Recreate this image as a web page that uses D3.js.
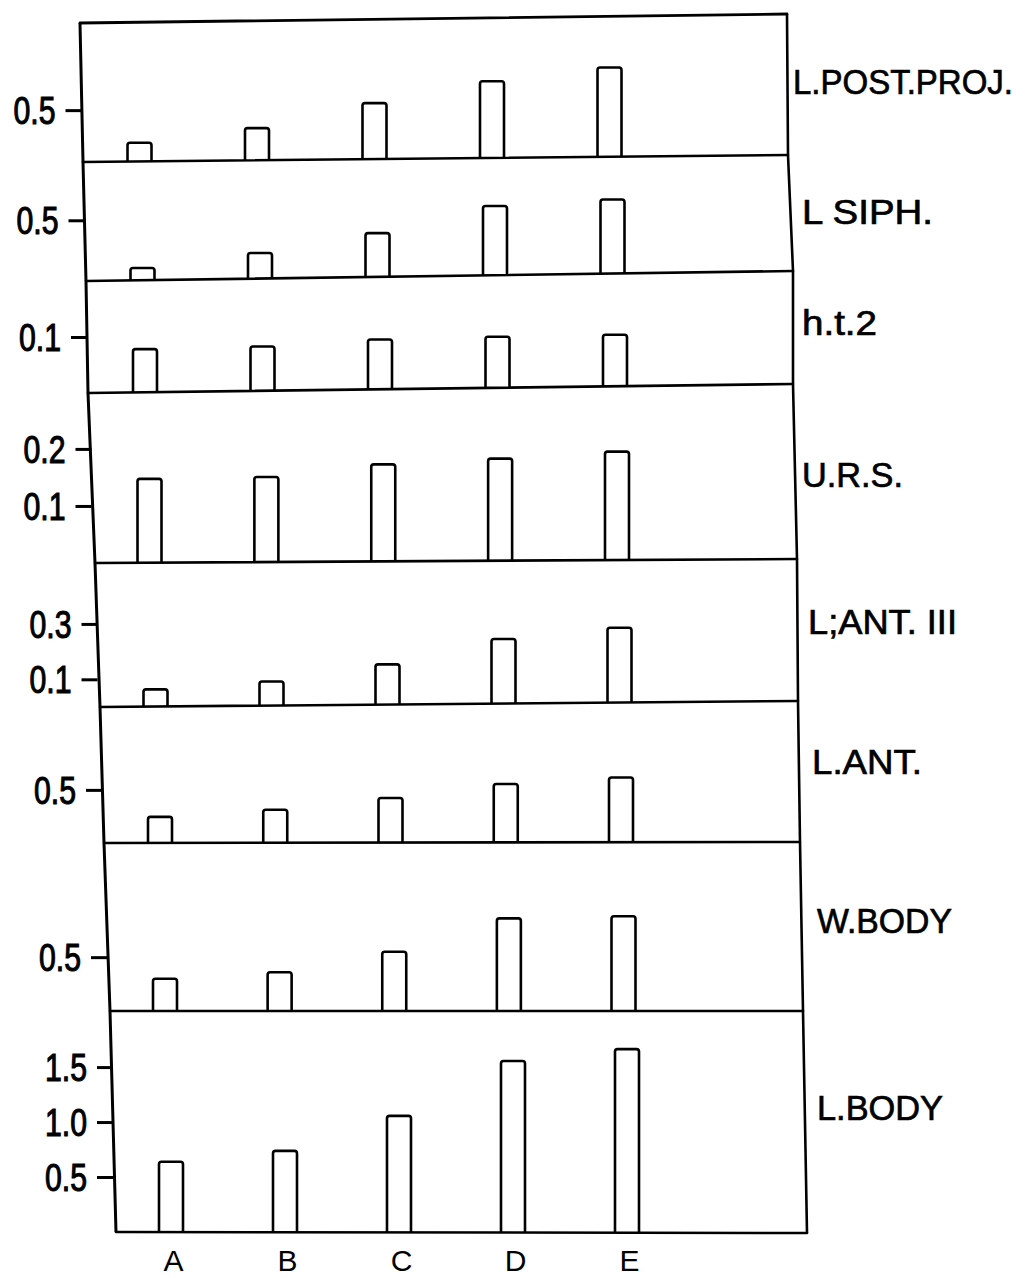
<!DOCTYPE html>
<html>
<head>
<meta charset="utf-8">
<script src="https://cdn.jsdelivr.net/npm/d3@7"></script>
<style>
  html, body { margin: 0; padding: 0; background: #fff; }
  svg { display: block; }
</style>
</head>
<body>
<svg id="chart" width="1026" height="1278"></svg>
<script>
// ---------- data ----------
const categories = ["A", "B", "C", "D", "E"];
const panelLabels = ["L.POST.PROJ.", "L SIPH.", "h.t.2", "U.R.S.", "L;ANT. III", "L.ANT.", "W.BODY", "L.BODY"];
const lPostProj = [0.18, 0.31, 0.54, 0.74, 0.86];
const lSiph     = [0.10, 0.21, 0.36, 0.57, 0.61];
const ht2       = [0.077, 0.079, 0.089, 0.091, 0.092];
const urs       = [0.147, 0.149, 0.170, 0.179, 0.190];
const lAnt3     = [0.062, 0.087, 0.145, 0.233, 0.270];
const lAnt      = [0.245, 0.31, 0.42, 0.55, 0.61];
const wBody     = [0.30, 0.36, 0.55, 0.86, 0.88];
const lBody     = [0.64, 0.74, 1.06, 1.56, 1.67];
const seriesValues = [lPostProj, lSiph, ht2, urs, lAnt3, lAnt, wBody, lBody];
const tickValues = [[0.5], [0.5], [0.1], [0.1, 0.2], [0.1, 0.3], [0.5], [0.5], [0.5, 1.0, 1.5]];
const yMax = [1.34, 0.98, 0.20, 0.298, 0.52, 1.28, 1.56, 2.01];

// ---------- layout (hand-drawn frame) ----------
const leftX  = [80, 83, 86, 88, 95, 100, 104, 110, 116];
const leftY  = [23, 162, 281, 393, 563, 707, 843, 1011, 1232];
const rightX = [787, 788, 793, 793, 797, 798, 800, 803, 807];
const rightY = [14, 155, 271, 384, 559, 701, 842, 1011, 1233];
const labelX = [793, 802, 802, 802, 808, 812, 817, 817];
const labelY = [81, 211, 322, 474, 621, 761, 920, 1107];
const labelW = [220, 131, 75, 101, 149, 110, 135, 126];

const svg = d3.select("#chart");
const ink = "#000";
const font = "'Liberation Sans', Arial, sans-serif";

// outer frame: left, right polylines, and horizontal dividers
const line = d3.line();
svg.append("path")
  .attr("d", line(leftX.map((x, i) => [x, leftY[i]])))
  .attr("fill", "none").attr("stroke", ink).attr("stroke-width", 3);
svg.append("path")
  .attr("d", line(rightX.map((x, i) => [x, rightY[i]])))
  .attr("fill", "none").attr("stroke", ink).attr("stroke-width", 2.6);
leftX.forEach((x, i) => {
  svg.append("line")
    .attr("x1", x).attr("y1", leftY[i])
    .attr("x2", rightX[i]).attr("y2", rightY[i])
    .attr("stroke", ink).attr("stroke-width", i === 0 ? 2.8 : 2.6)
    .attr("stroke-linecap", "round");
});

seriesValues.forEach((vals, p) => {
  const L = (leftX[p] + leftX[p + 1]) / 2;
  const R = (rightX[p] + rightX[p + 1]) / 2;
  const baseL = leftY[p + 1], baseR = rightY[p + 1];
  const x = d3.scalePoint().domain(categories).range([L + 58, R - 178]);
  const y = d3.scaleLinear().domain([0, yMax[p]]).range([baseL, leftY[p]]);
  const baseAt = xx => baseL + (baseR - baseL) * (xx - leftX[p + 1]) / (rightX[p + 1] - leftX[p + 1]);
  const bw = 24;

  const g = svg.append("g");
  g.selectAll("path.bar")
    .data(vals.map((v, i) => ({ c: categories[i], v })))
    .join("path")
    .attr("class", "bar")
    .attr("d", d => {
      const cx = x(d.c);
      const b = baseAt(cx);
      const t = y(d.v) + (b - baseL);
      const x0 = cx - bw / 2, x1 = cx + bw / 2, r = 2.5;
      return `M${x0},${b} L${x0},${t + r} Q${x0},${t} ${x0 + r},${t} L${x1 - r},${t} Q${x1},${t} ${x1},${t + r} L${x1},${b}`;
    })
    .attr("fill", "none").attr("stroke", ink).attr("stroke-width", 2.6)
    .attr("stroke-linejoin", "round");

  // y axis ticks
  const axLeft = leftX[p + 1] + (leftX[p] - leftX[p + 1]) * 0.5;
  const axis = d3.axisLeft(y).tickValues(tickValues[p]).tickSize(16).tickPadding(10)
    .tickFormat(d3.format(".1f"));
  const ag = svg.append("g").attr("transform", `translate(${axLeft},0)`).call(axis);
  ag.select(".domain").remove();
  ag.selectAll(".tick line").attr("stroke", ink).attr("stroke-width", 3);
  ag.selectAll(".tick text")
    .attr("font-family", font).attr("font-size", 38).attr("fill", ink)
    .attr("stroke", ink).attr("stroke-width", 1.1)
    .attr("dy", "0.36em")
    .attr("textLength", 42).attr("lengthAdjust", "spacingAndGlyphs");

  // panel label
  svg.append("text")
    .attr("x", labelX[p]).attr("y", labelY[p]).attr("dy", "0.36em")
    .attr("font-family", font).attr("font-size", 35).attr("fill", ink)
    .attr("stroke", ink).attr("stroke-width", 0.7)
    .attr("textLength", labelW[p]).attr("lengthAdjust", "spacingAndGlyphs")
    .text(panelLabels[p]);

  if (p === seriesValues.length - 1) {
    const xa = d3.axisBottom(x).tickSize(0).tickPadding(0);
    const bg = svg.append("g").attr("transform", `translate(2,1271)`).call(xa);
    bg.select(".domain").remove();
    bg.selectAll(".tick text")
      .attr("font-family", font).attr("font-size", 30).attr("fill", ink)
      .attr("dy", 0).attr("y", 0);
  }
});
</script>
</body>
</html>
